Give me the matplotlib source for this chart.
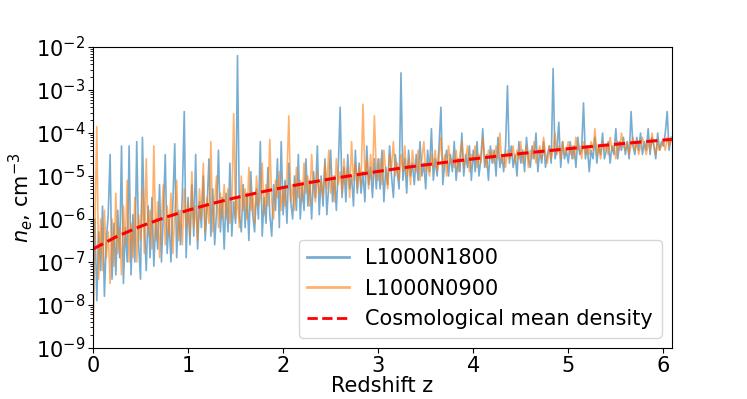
import numpy as np
import matplotlib
matplotlib.use("Agg")
import matplotlib.pyplot as plt

# redshift sampling of the light-cone slices
z_start = 0.0
z_step = 0.02

# log10 of electron density (step 0.02 in z)
log_ne_1800 = [
    -8.3, -6.0, -7.9, -6.3, -7.2, -5.7, -7.8, -6.5, -5.9, -4.5,
    -7.4, -6.1, -7.3, -5.8, -6.9, -4.3, -7.5, -6.2, -7.0, -4.3,
    -7.3, -5.9, -7.0, -4.2, -6.6, -7.4, -4.1, -6.1, -7.2, -5.7,
    -6.9, -5.5, -7.1, -6.0, -6.7, -5.2, -7.0, -5.9, -4.5, -6.8,
    -6.0, -7.0, -5.6, -4.25, -6.9, -5.8, -6.6, -5.4, -3.5, -6.9,
    -5.5, -6.6, -5.2, -6.4, -4.5, -6.7, -5.6, -6.2, -5.0, -6.5,
    -5.7, -4.6, -6.4, -5.3, -6.6, -5.8, -4.4, -6.3, -5.5, -6.7,
    -5.4, -6.3, -4.7, -6.4, -5.6, -6.1, -2.2, -5.9, -6.3, -5.2,
    -6.2, -5.4, -6.5, -4.9, -5.9, -6.3, -5.3, -6.0, -4.2, -6.4,
    -5.5, -6.1, -4.8, -5.9, -6.4, -5.2, -5.8, -4.6, -6.2, -4.2,
    -5.9, -5.1, -6.1, -4.7, -5.6, -6.0, -5.0, -5.8, -4.5, -6.0,
    -5.2, -5.8, -4.6, -5.7, -5.1, -6.0, -4.9, -5.5, -4.3, -5.9,
    -5.0, -5.7, -4.6, -5.9, -5.2, -4.4, -5.6, -5.0, -5.8, -4.8,
    -3.4, -5.5, -4.8, -5.6, -4.5, -5.3, -5.0, -5.7, -4.4, -5.4,
    -4.7, -5.4, -4.9, -5.6, -4.3, -5.2, -4.8, -5.5, -4.6, -5.3,
    -4.6, -5.3, -4.4, -5.6, -4.8, -5.2, -4.3, -5.0, -5.5, -4.5,
    -4.9, -5.3, -2.6, -5.1, -4.6, -5.4, -4.4, -5.0, -4.7, -5.2,
    -4.5, -5.1, -4.2, -5.0, -4.7, -5.3, -4.4, -4.9, -3.9, -5.1,
    -4.6, -5.0, -4.3, -3.4, -5.2, -4.7, -4.4, -5.0, -4.5, -4.9,
    -4.2, -5.1, -4.6, -4.9, -4.0, -5.0, -4.5, -4.8, -4.3, -5.1,
    -4.4, -4.9, -4.2, -5.0, -4.6, -3.9, -4.8, -4.5, -5.1, -4.3,
    -4.7, -4.4, -5.0, -4.1, -4.8, -4.5, -4.9, -4.3, -2.9, -4.7,
    -4.3, -4.8, -4.5, -5.0, -4.2, -4.7, -4.4, -4.9, -4.1, -4.6,
    -4.8, -4.3, -4.6, -4.0, -4.9, -4.4, -4.7, -4.2, -4.8, -4.5,
    -4.3, -4.7, -2.5, -4.6, -4.4, -3.75, -4.8, -4.2, -4.6, -4.4,
    -4.7, -4.2, -4.6, -4.3, -4.8, -4.1, -4.5, -4.4, -3.3, -4.6,
    -4.3, -4.9, -4.4, -4.6, -4.1, -4.7, -4.3, -4.5, -4.0, -4.6,
    -4.4, -4.2, -4.7, -4.3, -4.5, -3.9, -4.6, -4.2, -4.4, -4.1,
    -4.5, -4.2, -4.6, -3.5, -4.3, -4.5, -4.1, -4.4, -4.0, -4.5,
    -4.2, -4.4, -3.9, -4.5, -4.1, -4.3, -4.6, -4.0, -4.4, -4.2,
    -4.3, -4.0, -3.5, -4.4, -4.1,
]

log_ne_0900 = [
    -9.0, -6.2, -3.85, -7.4, -6.0, -7.2, -5.8, -6.9, -6.3, -7.5,
    -6.0, -7.1, -5.4, -6.8, -6.2, -7.3, -5.7, -6.6, -5.1, -7.0,
    -6.1, -6.9, -5.5, -7.0, -5.9, -6.5, -5.3, -6.8, -4.6, -6.4,
    -5.8, -6.7, -4.3, -6.5, -5.6, -6.9, -6.0, -5.2, -6.6, -5.7,
    -6.4, -5.4, -6.8, -5.9, -5.1, -6.5, -5.8, -6.6, -5.3, -6.2,
    -5.6, -6.4, -4.9, -6.2, -5.7, -6.5, -5.3, -6.0, -4.7, -6.3,
    -5.5, -6.1, -4.2, -6.3, -5.6, -5.0, -6.2, -5.4, -6.0, -5.2,
    -6.0, -5.3, -6.1, -5.7, -3.55, -6.0, -5.5, -6.2, -5.0, -5.8,
    -5.3, -6.0, -4.8, -5.8, -5.4, -6.1, -5.0, -5.7, -5.5, -4.7,
    -5.9, -5.2, -5.7, -4.15, -5.6, -6.0, -5.1, -5.5, -4.9, -5.8,
    -5.3, -5.7, -5.0, -3.6, -5.6, -5.2, -5.8, -4.8, -5.5, -5.1,
    -5.6, -4.7, -5.4, -5.0, -5.7, -4.5, -5.3, -5.6, -4.9, -5.4,
    -5.1, -5.5, -4.7, -5.3, -4.4, -5.4, -5.0, -5.6, -4.6, -5.2,
    -4.9, -5.4, -4.6, -5.2, -4.8, -5.5, -4.2, -5.1, -4.7, -5.3,
    -4.8, -5.2, -3.33, -5.0, -4.6, -5.3, -4.5, -5.1, -3.6, -4.9,
    -5.1, -4.6, -5.2, -4.4, -4.9, -5.3, -4.5, -4.8, -4.2, -5.0,
    -4.7, -5.1, -4.5, -4.9, -4.3, -5.0, -4.6, -5.2, -4.4, -4.8,
    -4.9, -4.4, -5.1, -4.6, -4.2, -4.9, -4.7, -5.0, -4.5, -4.8,
    -4.4, -4.9, -4.6, -4.1, -4.8, -4.5, -5.0, -4.3, -4.7, -4.6,
    -4.8, -4.4, -4.9, -4.5, -4.2, -4.8, -4.6, -4.3, -4.9, -4.5,
    -4.6, -4.3, -4.8, -4.5, -4.7, -4.1, -4.6, -4.8, -4.4, -4.6,
    -4.4, -4.7, -4.3, -4.6, -4.0, -4.7, -4.5, -4.8, -4.4, -4.6,
    -4.5, -4.3, -4.7, -4.4, -4.6, -4.2, -4.7, -4.5, -4.3, -4.8,
    -4.4, -4.6, -4.2, -4.7, -4.5, -4.3, -4.6, -4.1, -4.5, -4.7,
    -4.3, -4.6, -4.4, -4.0, -4.5, -4.3, -4.6, -4.2, -4.5, -4.4,
    -4.2, -4.5, -4.3, -4.6, -4.1, -4.4, -4.3, -4.6, -4.2, -4.5,
    -4.3, -4.5, -4.2, -4.4, -3.9, -4.5, -4.3, -4.6, -4.2, -4.4,
    -4.3, -4.5, -4.1, -4.4, -4.3, -4.6, -4.2, -4.4, -4.0, -4.3,
    -4.4, -4.2, -4.5, -4.3, -4.1, -4.4, -4.2, -4.5, -4.3, -4.1,
    -4.3, -4.5, -4.2, -4.4, -4.0, -4.3, -4.5, -4.2, -4.4, -4.3,
    -4.2, -4.4, -4.1, -4.3, -4.2,
]

# cosmological mean electron density
z_mean = [0.0, 0.25, 0.5, 0.75, 1.0, 1.25, 1.5, 1.75, 2.0, 2.25, 2.5, 2.75, 3.0,
          3.25, 3.5, 3.75, 4.0, 4.25, 4.5, 4.75, 5.0, 5.25, 5.5, 5.75, 6.0, 6.09]
ne_mean = [2.00e-7, 3.91e-7, 6.75e-7, 1.07e-6, 1.60e-6, 2.28e-6, 3.13e-6, 4.16e-6,
           5.40e-6, 6.87e-6, 8.58e-6, 1.05e-5, 1.28e-5, 1.54e-5, 1.82e-5, 2.14e-5,
           2.50e-5, 2.89e-5, 3.33e-5, 3.80e-5, 4.32e-5, 4.88e-5, 5.49e-5, 6.15e-5,
           6.86e-5, 7.13e-5]

labels = ["L1000N1800", "L1000N0900", "Cosmological mean density"]

n = len(log_ne_1800)
z = z_start + z_step * np.arange(n)

plt.rcParams["font.size"] = 15

fig = plt.figure(figsize=(7.47, 3.99), dpi=100)
ax = fig.add_axes([0.1245, 0.128, 0.775, 0.754])

ax.plot(z, 10 ** np.array(log_ne_1800), color="tab:blue", alpha=0.6, lw=1.2, label=labels[0])
ax.plot(z, 10 ** np.array(log_ne_0900), color="tab:orange", alpha=0.6, lw=1.2, label=labels[1])
ax.plot(z_mean, ne_mean, color="red", ls="--", lw=2.2, label=labels[2])

ax.set_yscale("log")
ax.set_ylim(1e-9, 1e-2)
ax.set_xlim(0, 6.09)
ax.set_xticks([0, 1, 2, 3, 4, 5, 6])
ax.tick_params(labelsize=15, pad=2)
ax.set_xlabel("Redshift z", fontsize=15, labelpad=0)
ax.set_ylabel("$n_e$, cm$^{-3}$", fontsize=15, labelpad=1)
leg = ax.legend(loc="lower right", fontsize=15, borderaxespad=0.5)
for h in leg.get_lines():
    h.set_linewidth(2)

fig.savefig("out.png", dpi=100)
